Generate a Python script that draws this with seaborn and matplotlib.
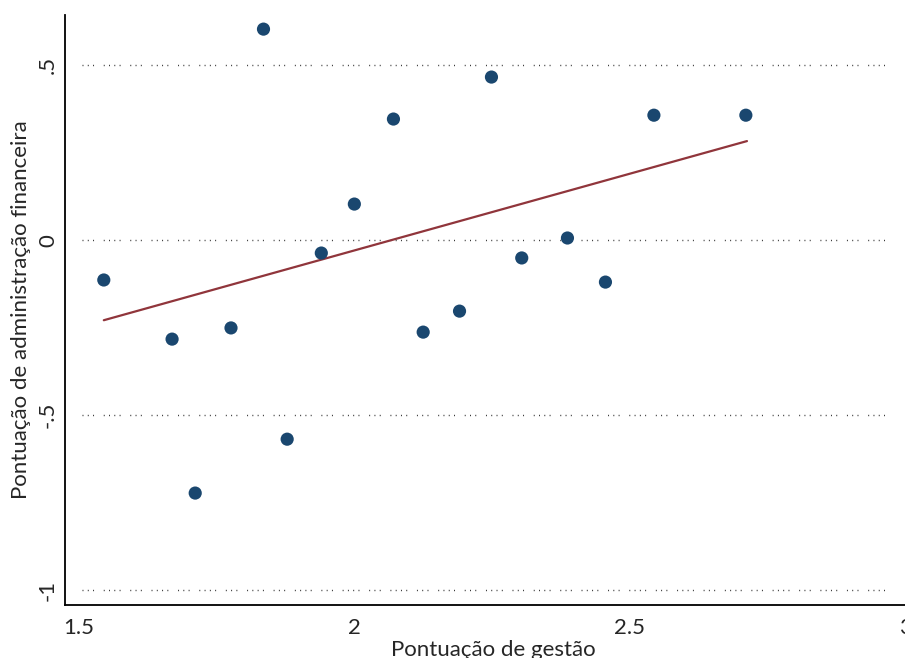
import matplotlib
matplotlib.use("Agg")
import matplotlib.pyplot as plt
import seaborn as sns
import pandas as pd

# Management score vs. financial administration score, one point per unit
gestao = [1.545, 1.669, 1.711, 1.776, 1.835, 1.878, 1.940, 2.000, 2.071,
          2.125, 2.191, 2.249, 2.304, 2.387, 2.456, 2.544, 2.711]
adm_fin = [-0.114, -0.283, -0.723, -0.251, 0.603, -0.569, -0.037, 0.103, 0.346,
           -0.263, -0.203, 0.466, -0.051, 0.006, -0.120, 0.357, 0.357]

# Fitted linear trend (endpoints over the observed range)
fit_x = [1.545, 2.713]
fit_y = [-0.229, 0.283]

x_ticks = [1.5, 2, 2.5, 3]
x_ticklabels = ["1.5", "2", "2.5", "3"]
y_ticks = [-1, -0.5, 0, 0.5]
y_ticklabels = ["-1", "-.5", "0", ".5"]

df = pd.DataFrame({"gestao": gestao, "adm_fin": adm_fin})
fit = pd.DataFrame({"gestao": fit_x, "adm_fin": fit_y})

sns.set_theme(style="white")
plt.rcParams["font.family"] = ["Lato", "DejaVu Sans"]

fig = plt.figure(figsize=(9.05, 6.58), dpi=100)
ax = fig.add_axes([0.0718, 0.0805, 0.9282, 0.8965])

navy = "#1a476f"
maroon = "#90353b"

# dotted horizontal grid at the y ticks, broken into small dot groups
dots = (0, (0.7, 3.1, 0.7, 3.1, 0.7, 7.0, 0.7, 3.1, 0.7, 3.1, 0.7, 3.1, 0.7, 7.0))
for yv in y_ticks:
    ax.axhline(yv, xmin=0.02, xmax=0.983, color="#333333", lw=1.0,
               linestyle=dots, zorder=0)

sns.lineplot(data=fit, x="gestao", y="adm_fin", ax=ax, color=maroon, lw=1.6,
             zorder=2)
sns.scatterplot(data=df, x="gestao", y="adm_fin", ax=ax, s=90, color=navy,
                edgecolor="none", zorder=3)

ax.set_xlim(1.4745, 3.0)
ax.set_ylim(-1.043, 0.643)
ax.set_xticks(x_ticks)
ax.set_xticklabels(x_ticklabels, fontsize=16)
ax.set_yticks(y_ticks)
ax.set_yticklabels(y_ticklabels, fontsize=16, rotation=90, va="center")

ax.set_xlabel("Pontuação de gestão", fontsize=16, labelpad=2)
ax.set_ylabel("Pontuação de administração financeira", fontsize=16, labelpad=5)
ax.xaxis.label.set_x(0.51)

for side in ["top", "right"]:
    ax.spines[side].set_visible(False)
for side in ["left", "bottom"]:
    ax.spines[side].set_color("black")
    ax.spines[side].set_linewidth(1.3)

ax.tick_params(axis="x", length=0, pad=9)
ax.tick_params(axis="y", length=0, pad=5)
ax.grid(False)

fig.savefig("out.png", dpi=100, facecolor="white")
